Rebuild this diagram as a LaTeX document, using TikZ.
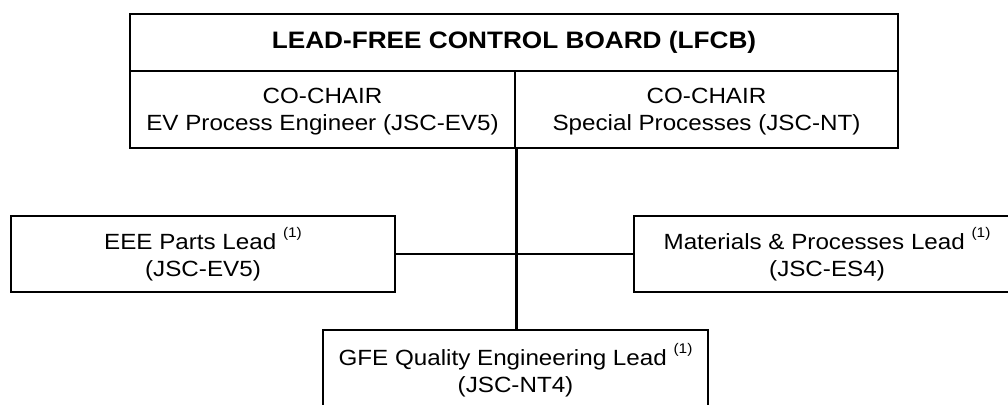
\documentclass[tikz,border=0pt]{standalone}
\usepackage{fontspec}
\setmainfont{Liberation Sans}
\newfontfamily\bodyfont[FakeStretch=1.1]{Liberation Sans}
\newcommand\fnmark{\raisebox{12pt}{\fontsize{14}{14}\selectfont (1)}}
\begin{document}
\begin{tikzpicture}[x=1pt,y=-1pt,
  box/.style={draw=black, line width=2.6pt, inner sep=0pt, align=center,
    font=\bodyfont\fontsize{22}{27.5}\selectfont},
  titlebox/.style={box, font=\bodyfont\bfseries\fontsize{23.8}{28}\selectfont},
  chairbox/.style={box, text depth=0pt},
  link/.style={draw=black, line width=2.6pt}]
\clip (0,0) rectangle (1008,404);
\fill[white] (0,0) rectangle (1008,404);

% top board
\node[titlebox, minimum width=768pt, minimum height=57pt] (title) at (514,42.5)
  {LEAD-FREE CONTROL BOARD (LFCB)};
\node[chairbox, minimum width=385pt, minimum height=77pt] (chairA) at (322.5,109.5)
  {CO-CHAIR\\EV Process Engineer (JSC-EV5)};
\node[chairbox, minimum width=383pt, minimum height=77pt] (chairB) at (706.5,109.5)
  {CO-CHAIR\\Special Processes (JSC-NT)};

% leads
\node[box, minimum width=384pt, minimum height=76pt] (eee) at (203,254)
  {EEE Parts Lead \fnmark\\(JSC-EV5)};
\node[box, minimum width=386pt, minimum height=76pt] (mp) at (827,254)
  {Materials \& Processes Lead \fnmark\\(JSC-ES4)};
\node[box, minimum width=385pt, minimum height=80pt] (gfe) at (515.5,370)
  {GFE Quality Engineering Lead \fnmark\\(JSC-NT4)};

% connectors
\coordinate (trunk) at (chairA.south east);
\draw[link] (trunk) -- (trunk |- gfe.north);
\draw[link] (eee.east) -- (mp.west);
\end{tikzpicture}
\end{document}
